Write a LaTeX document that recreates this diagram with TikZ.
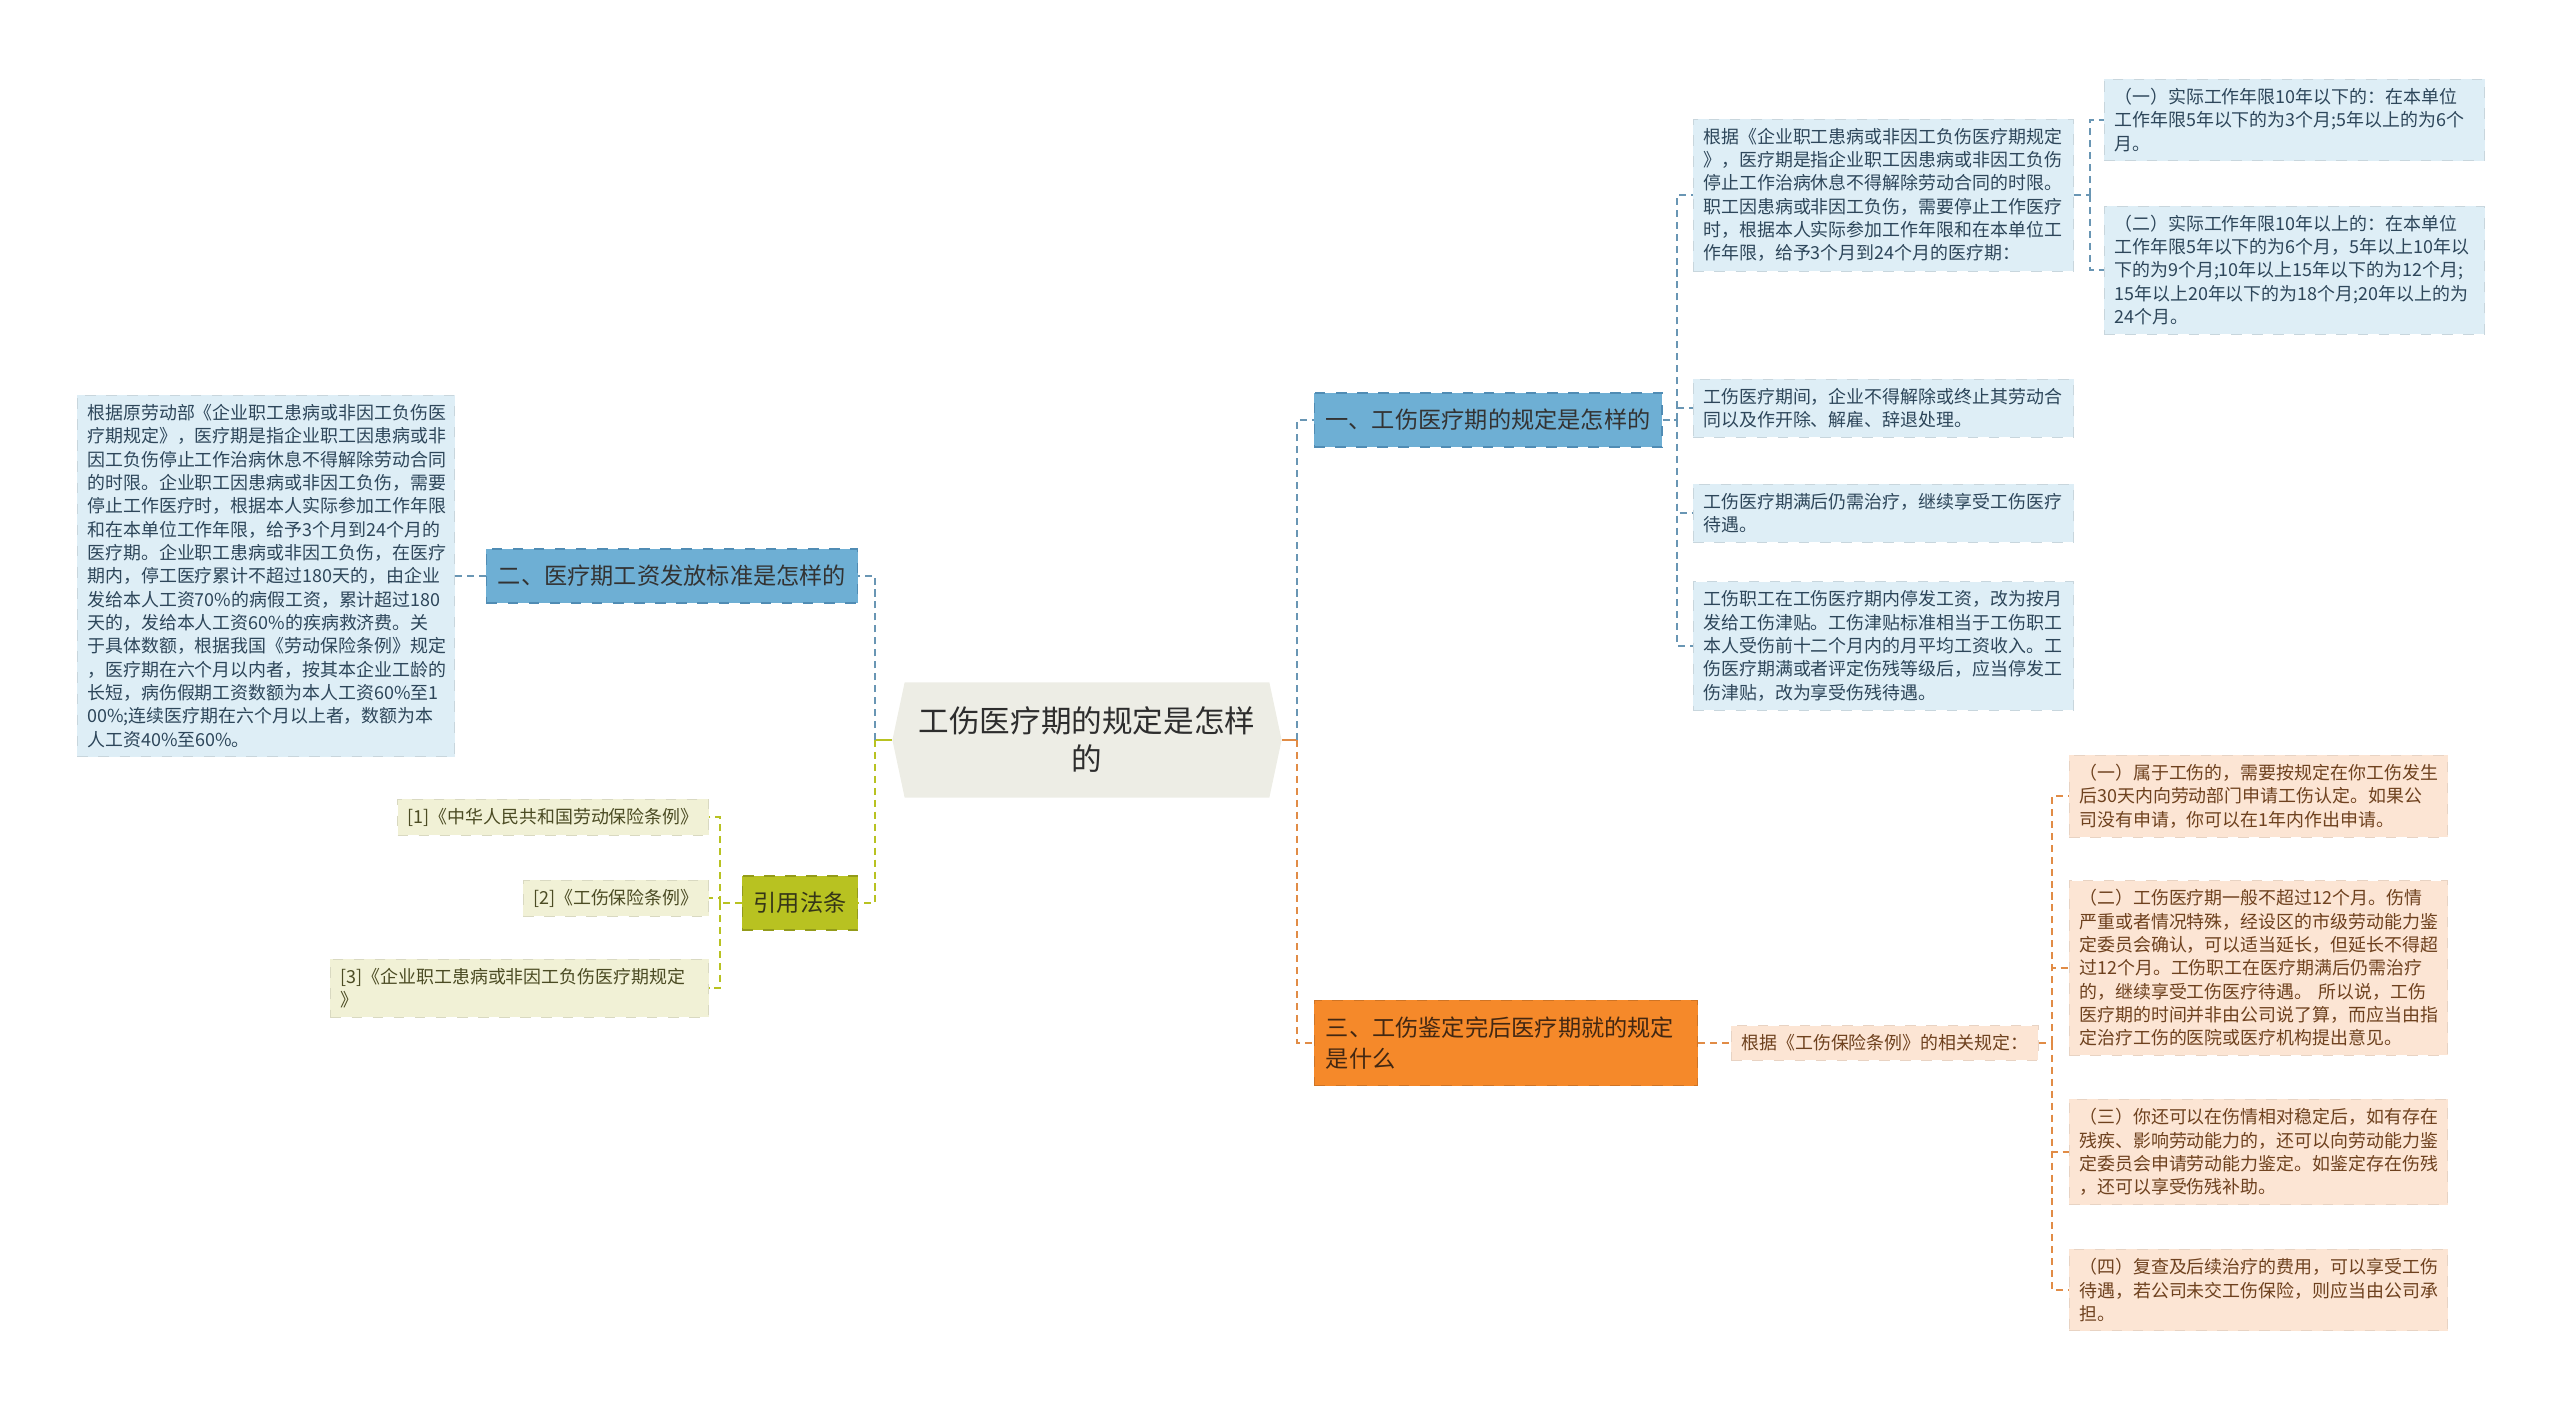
\documentclass[tikz,border=0pt]{standalone}
\usepackage{fontspec}
\setmainfont{Noto Sans CJK SC}
\usepackage{xcolor}
\usetikzlibrary{shapes.symbols}

\definecolor{rootfill}{RGB}{237,237,229}
\definecolor{roottext}{RGB}{45,45,45}
\definecolor{bluemain}{RGB}{110,175,212}
\definecolor{blueedge}{RGB}{80,140,180}
\definecolor{bluelight}{RGB}{222,238,246}
\definecolor{bluetext}{RGB}{45,70,90}
\definecolor{bluelinkc}{RGB}{105,150,180}
\definecolor{olivemain}{RGB}{184,194,33}
\definecolor{olivelight}{RGB}{241,241,214}
\definecolor{olivetext}{RGB}{75,75,35}
\definecolor{orangemain}{RGB}{245,137,42}
\definecolor{orangelight}{RGB}{252,229,212}
\definecolor{orangetext}{RGB}{110,65,30}
\definecolor{orangelinkc}{RGB}{225,140,70}

\tikzset{
  rootbox/.style={signal, signal to=east and west, signal pointer angle=156,
    fill=rootfill, text=roottext, align=center, minimum width=3.89cm,
    minimum height=1.15cm, font=\fontsize{8.7pt}{10.8pt}\selectfont},
  mainbox/.style={draw, dashed, line width=0.3pt, inner xsep=0.115cm,
    minimum height=0.54cm, font=\fontsize{6.6pt}{8.6pt}\selectfont},
  bluebox/.style={mainbox, fill=bluemain, draw=blueedge, text=black!80},
  olivebox/.style={mainbox, fill=olivemain, draw=olivemain!80!black, text=olivetext!70!black},
  orangebox/.style={mainbox, fill=orangemain, draw=orangemain!85!black, text=orangetext!60!black},
  note/.style={draw, dashed, line width=0.2pt, align=left, inner xsep=0.1cm,
    inner ysep=0.09cm, font=\fontsize{5.1pt}{6.63pt}\selectfont},
  bluenote/.style={note, anchor=west, text width=3.6cm, fill=bluelight, draw=bluelight!90!black, text=bluetext},
  olivenote/.style={note, anchor=east, fill=olivelight, draw=olivelight!90!black, text=olivetext},
  orangenote/.style={note, anchor=west, fill=orangelight, draw=orangelight!92!black, text=orangetext},
  link/.style={dash pattern=on 2pt off 1.4pt, line width=0.4pt},
  bluelink/.style={link, bluelinkc},
  olivelink/.style={link, olivemain},
  orangelink/.style={link, orangelinkc}
}

\begin{document}
\begin{tikzpicture}[x=0.01cm, y=-0.01cm]
\useasboundingbox (0,0) rectangle (2560,1410);
% centre topic
\node[rootbox] (root) at (1087,740) {工伤医疗期的规定是怎样\\的};
% main branches
\node[bluebox] (b1) at (1488,420) {一、工伤医疗期的规定是怎样的};
\node[bluebox] (b2) at (672,576) {二、医疗期工资发放标准是怎样的};
\node[olivebox] (cite) at (800,903) {引用法条};
\node[orangebox, text width=3.6cm, align=left, minimum height=0.85cm] (b3) at (1506,1043)
  {三、工伤鉴定完后医疗期就的规定\\是什么};
% branch one
\node[bluenote] (c1a) at (1693,195) {根据《企业职工患病或非因工负伤医疗期规定\\》，医疗期是指企业职工因患病或非因工负伤\\停止工作治病休息不得解除劳动合同的时限。\\职工因患病或非因工负伤，需要停止工作医疗\\时，根据本人实际参加工作年限和在本单位工\\作年限，给予3个月到24个月的医疗期：};
\node[bluenote] (g1) at (2104,120) {（一）实际工作年限10年以下的：在本单位\\工作年限5年以下的为3个月;5年以上的为6个\\月。};
\node[bluenote] (g2) at (2104,270) {（二）实际工作年限10年以上的：在本单位\\工作年限5年以下的为6个月，5年以上10年以\\下的为9个月;10年以上15年以下的为12个月;\\15年以上20年以下的为18个月;20年以上的为\\24个月。};
\node[bluenote] (c1b) at (1693,408) {工伤医疗期间，企业不得解除或终止其劳动合\\同以及作开除、解雇、辞退处理。};
\node[bluenote] (c1c) at (1693,513) {工伤医疗期满后仍需治疗，继续享受工伤医疗\\待遇。};
\node[bluenote] (c1d) at (1693,646) {工伤职工在工伤医疗期内停发工资，改为按月\\发给工伤津贴。工伤津贴标准相当于工伤职工\\本人受伤前十二个月内的月平均工资收入。工\\伤医疗期满或者评定伤残等级后，应当停发工\\伤津贴，改为享受伤残待遇。};
% branch two
\node[bluenote, text width=3.57cm] (c2) at (77,576) {根据原劳动部《企业职工患病或非因工负伤医\\疗期规定》，医疗期是指企业职工因患病或非\\因工负伤停止工作治病休息不得解除劳动合同\\的时限。企业职工因患病或非因工负伤，需要\\停止工作医疗时，根据本人实际参加工作年限\\和在本单位工作年限，给予3个月到24个月的\\医疗期。企业职工患病或非因工负伤，在医疗\\期内，停工医疗累计不超过180天的，由企业\\发给本人工资70\%的病假工资，累计超过180\\天的，发给本人工资60\%的疾病救济费。关\\于具体数额，根据我国《劳动保险条例》规定\\，医疗期在六个月以内者，按其本企业工龄的\\长短，病伤假期工资数额为本人工资60\%至1\\00\%;连续医疗期在六个月以上者，数额为本\\人工资40\%至60\%。};
% cited laws
\node[olivenote] (r1) at (709,817) {[1]《中华人民共和国劳动保险条例》};
\node[olivenote] (r2) at (709,898) {[2]《工伤保险条例》};
\node[olivenote, text width=3.58cm] (r3) at (709,988) {[3]《企业职工患病或非因工负伤医疗期规定\\》};
% branch three
\node[orangenote] (c3) at (1731,1043) {根据《工伤保险条例》的相关规定：};
\node[orangenote, text width=3.58cm] (h1) at (2069,796) {（一）属于工伤的，需要按规定在你工伤发生\\后30天内向劳动部门申请工伤认定。如果公\\司没有申请，你可以在1年内作出申请。};
\node[orangenote, text width=3.58cm] (h2) at (2069,968) {（二）工伤医疗期一般不超过12个月。伤情\\严重或者情况特殊，经设区的市级劳动能力鉴\\定委员会确认，可以适当延长，但延长不得超\\过12个月。工伤职工在医疗期满后仍需治疗\\的，继续享受工伤医疗待遇。 所以说，工伤\\医疗期的时间并非由公司说了算，而应当由指\\定治疗工伤的医院或医疗机构提出意见。};
\node[orangenote, text width=3.58cm] (h3) at (2069,1152) {（三）你还可以在伤情相对稳定后，如有存在\\残疾、影响劳动能力的，还可以向劳动能力鉴\\定委员会申请劳动能力鉴定。如鉴定存在伤残\\，还可以享受伤残补助。};
\node[orangenote, text width=3.58cm] (h4) at (2069,1290) {（四）复查及后续治疗的费用，可以享受工伤\\待遇，若公司未交工伤保险，则应当由公司承\\担。};
% connectors
\coordinate (rt) at (1297,740);
\coordinate (lt) at (875,740);
\coordinate (t1) at (1677,420);
\coordinate (t2) at (2090,195);
\coordinate (t3) at (720,903);
\coordinate (t4) at (2052,1043);
\draw[orangelinkc, line width=0.6pt] (root.east) -- (rt);
\draw[olivemain, line width=0.6pt] (root.west) -- (lt);
\draw[bluelink] (rt) |- (b1.west);
\draw[orangelink] (rt) |- (b3.west);
\draw[bluelink] (lt) |- (b2.east);
\draw[olivelink] (lt) |- (cite.east);
\draw[bluelink] (b2.west) -- (c2.east);
\draw[bluelink] (b1.east) -- (t1);
\foreach \n in {c1a,c1b,c1c,c1d} \draw[bluelink] (t1) |- (\n.west);
\draw[bluelink] (c1a.east) -- (t2);
\foreach \n in {g1,g2} \draw[bluelink] (t2) |- (\n.west);
\draw[olivelink] (cite.west) -- (t3);
\foreach \n in {r1,r2,r3} \draw[olivelink] (t3) |- (\n.east);
\draw[orangelink] (b3.east) -- (c3.west);
\draw[orangelink] (c3.east) -- (t4);
\foreach \n in {h1,h2,h3,h4} \draw[orangelink] (t4) |- (\n.west);
\end{tikzpicture}
\end{document}
